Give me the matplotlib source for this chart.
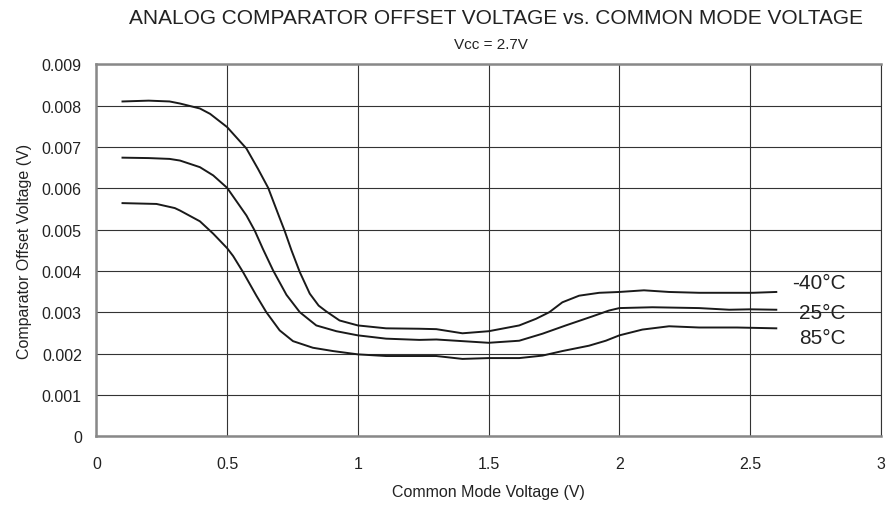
import matplotlib
matplotlib.use("Agg")
import matplotlib.pyplot as plt
from matplotlib.ticker import FuncFormatter

plt.rcParams['font.family'] = ['Liberation Sans', 'DejaVu Sans']

# ---- data ------------------------------------------------------------------
x_m40 = [0.1, 0.2, 0.28, 0.32, 0.396, 0.435, 0.5, 0.574, 0.618, 0.657, 0.701, 0.72,
         0.746, 0.778, 0.816, 0.85, 0.879, 0.93, 1.0, 1.108, 1.235, 1.3, 1.4, 1.5,
         1.617, 1.681, 1.732, 1.782, 1.846, 1.923, 2.0, 2.094, 2.19, 2.305, 2.42,
         2.51, 2.6]
y_m40 = [0.0081, 0.00812, 0.0081, 0.00805, 0.00793, 0.0078, 0.00748, 0.00696, 0.00647,
         0.00601, 0.00528, 0.00497, 0.0045, 0.00397, 0.00345, 0.00316, 0.00302, 0.0028,
         0.00268, 0.00261, 0.0026, 0.00259, 0.00249, 0.00254, 0.00268, 0.00284, 0.003,
         0.00324, 0.0034, 0.00347, 0.00349, 0.00353, 0.00349, 0.00347, 0.00347,
         0.00347, 0.00349]

x_25 = [0.1, 0.2, 0.28, 0.32, 0.396, 0.447, 0.5, 0.574, 0.606, 0.637, 0.676, 0.727,
        0.778, 0.841, 0.918, 1.0, 1.108, 1.235, 1.3, 1.5, 1.617, 1.706, 1.795, 1.897,
        1.96, 2.0, 2.126, 2.305, 2.42, 2.5, 2.6]
y_25 = [0.00674, 0.00673, 0.00671, 0.00667, 0.00651, 0.00631, 0.00601, 0.00534, 0.00497,
        0.00453, 0.00401, 0.00342, 0.003, 0.00268, 0.00254, 0.00244, 0.00236, 0.00233,
        0.00234, 0.00226, 0.00231, 0.00248, 0.00268, 0.0029, 0.00304, 0.0031, 0.00312,
        0.0031, 0.00306, 0.00307, 0.00306]

x_85 = [0.1, 0.23, 0.3, 0.32, 0.396, 0.447, 0.5, 0.523, 0.561, 0.612, 0.65,
        0.701, 0.752, 0.828, 0.905, 1.0, 1.108, 1.235, 1.3, 1.4, 1.5, 1.617, 1.706,
        1.782, 1.884, 1.948, 2.0, 2.088, 2.19, 2.305, 2.45, 2.6]
y_85 = [0.00564, 0.00562, 0.00552, 0.00546, 0.0052, 0.0049, 0.00455, 0.00436,
        0.00397, 0.0034, 0.003, 0.00256, 0.0023, 0.00214, 0.00206, 0.00198, 0.00194,
        0.00194, 0.00194, 0.00187, 0.00189, 0.00189, 0.00195, 0.00206, 0.00219,
        0.00231, 0.00244, 0.00258, 0.00266, 0.00263, 0.00263, 0.00261]

series = [(x_m40, y_m40, "-40°C"), (x_25, y_25, "25°C"), (x_85, y_85, "85°C")]
label_y = [0.00373, 0.00299, 0.00238]   # where the curve labels sit

x_ticks = [0, 0.5, 1, 1.5, 2, 2.5, 3]
y_ticks = [0, 0.001, 0.002, 0.003, 0.004, 0.005, 0.006, 0.007, 0.008, 0.009]

# ---- figure -------------------------------------------------------------------
fig = plt.figure(figsize=(8.88, 5.06), dpi=100)
ax = fig.add_axes([0.1085, 0.136, 0.8835, 0.735])

for (xs, ys, lab), ly in zip(series, label_y):
    ax.plot(xs, ys, color='#1a1a1a', lw=1.4, solid_joinstyle='round')
    ax.text(2.865, ly, lab, fontsize=15, color='#222222', va='center', ha='right')

ax.set_xlim(0, 3); ax.set_ylim(0, 0.009)
ax.set_xticks(x_ticks); ax.set_yticks(y_ticks)
ax.xaxis.set_major_formatter(FuncFormatter(lambda v, p: f"{v:g}"))
ax.yaxis.set_major_formatter(FuncFormatter(lambda v, p: "0" if v == 0 else f"{v:.3f}"))
ax.tick_params(length=0, labelsize=11.5, colors='#222222')
ax.tick_params(axis='x', pad=14); ax.tick_params(axis='y', pad=10.5)
ax.grid(True, color='#333333', lw=0.8)
for s in ['left', 'bottom', 'top']:
    ax.spines[s].set_color('#888888'); ax.spines[s].set_linewidth(1.8)
ax.spines['right'].set_color('#333333'); ax.spines['right'].set_linewidth(0.8)

fig.text(0.550, 1 - 493 / 506, 'Common Mode Voltage (V)', ha='center', va='center',
         fontsize=11.5, color='#222222')
fig.text(25 / 888, 1 - 251.5 / 506, 'Comparator Offset Voltage (V)', ha='center',
         va='center', rotation=90, fontsize=11.5, color='#222222')
fig.text(496 / 888, 1 - 19 / 506, 'ANALOG COMPARATOR OFFSET VOLTAGE vs. COMMON MODE VOLTAGE',
         ha='center', va='center', fontsize=15, color='#222222')
fig.text(491 / 888, 1 - 45 / 506, 'Vcc = 2.7V', ha='center', va='center', fontsize=11,
         color='#222222')

fig.savefig('out.png', dpi=100)
